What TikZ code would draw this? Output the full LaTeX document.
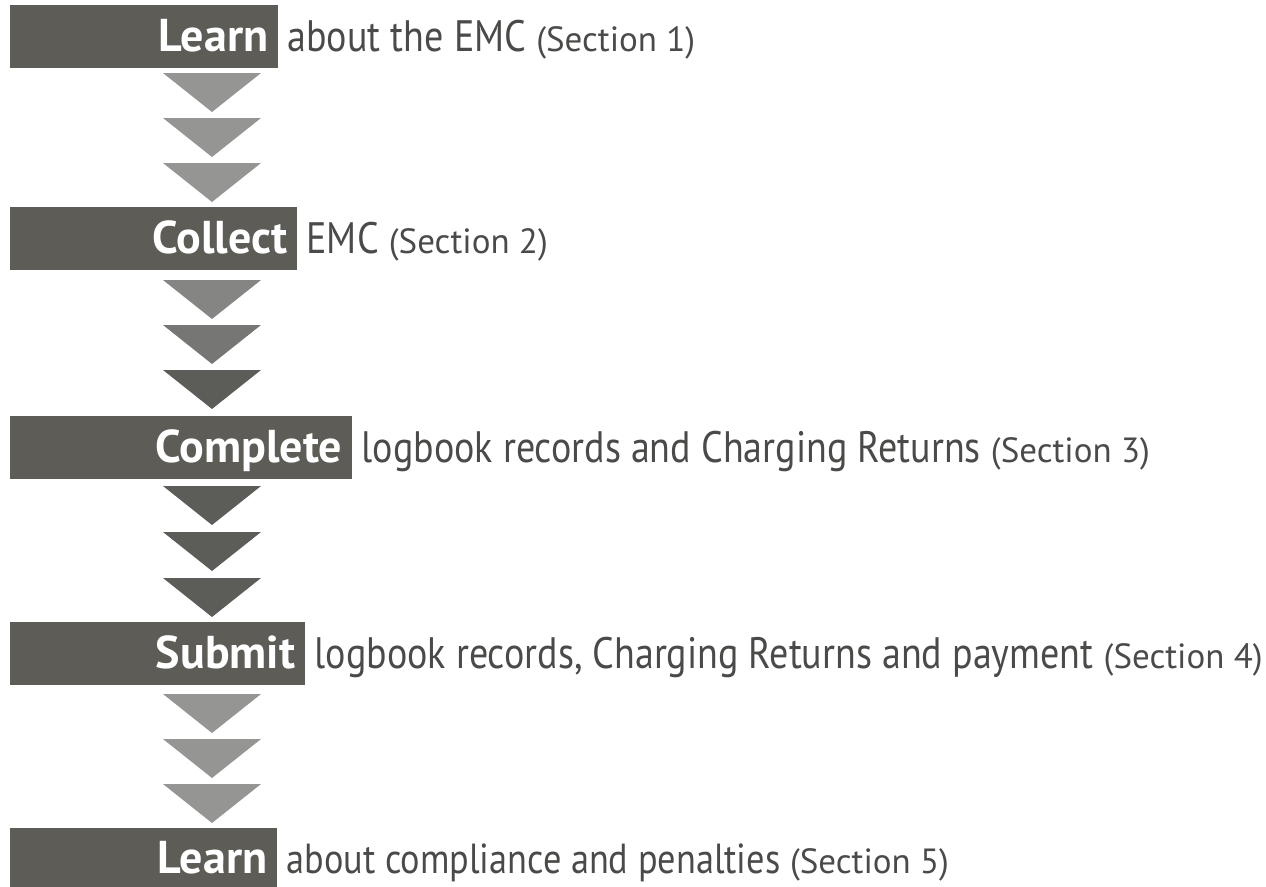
\documentclass[tikz,border=0pt]{standalone}
\usepackage{fontspec}
\setmainfont{PT Sans}
\newfontfamily\condfont[FakeStretch=0.864]{PT Sans}
\definecolor{barc}{HTML}{5D5C57}
\definecolor{txtc}{HTML}{4A4A48}
\definecolor{trilight}{HTML}{959594}
\definecolor{trimid}{HTML}{858583}
\definecolor{trimid2}{HTML}{767674}
\definecolor{tridark}{HTML}{5C5C59}
\begin{document}
\begin{tikzpicture}[x=1pt,y=-1pt,
  bar/.style={fill=barc, draw=none, anchor=north west, minimum height=63pt,
    inner xsep=10pt, inner ysep=0pt, text=white, align=right,
    font=\fontsize{46}{48}\selectfont\bfseries, text height=37pt, text depth=8pt},
  desc/.style={anchor=west, text=txtc, inner sep=0pt,
    font=\condfont\fontsize{44}{46}\selectfont, text height=37pt, text depth=8pt},
  tri/.style={draw=none}]
\useasboundingbox (0,0) rectangle (1266,886);
\clip (0,0) rectangle (1266,886);
\newcommand{\sect}[1]{{\normalfont\fontsize{35}{38}\selectfont (Section #1)}}
\newcommand{\tri}[2]{\fill[tri,#2] (163,#1) -- (261,#1) -- (212,#1+39) -- cycle;}
% bars
\node[bar, text width=248pt] (b1) at (10,5) {Learn};
\node[desc, xshift=9pt] (d1) at (b1.east) {about the EMC \sect{1}};
\node[bar, text width=267pt] (b2) at (10,207) {Collect};
\node[desc, xshift=9pt] (d2) at (b2.east) {EMC \sect{2}};
\node[bar, text width=322pt] (b3) at (10,416) {Complete};
\node[desc, xshift=9pt] (d3) at (b3.east) {logbook records and Charging Returns \sect{3}};
\node[bar, text width=275pt] (b4) at (10,622) {Submit};
\node[desc, xshift=9pt] (d4) at (b4.east) {logbook records, Charging Returns and payment \sect{4}};
\node[bar, text width=247pt, minimum height=62pt] (b5) at (10,828) {Learn};
\node[desc, xshift=9pt, font=\condfont\fontsize{42}{44}\selectfont] (d5) at (b5.east) {about compliance and penalties \sect{5}};
\fill[barc] (b5.south west) rectangle ([yshift=-10pt]b5.south east);
% triangles
\tri{73}{trilight}
\tri{118}{trilight}
\tri{163}{trilight}
\tri{280}{trimid}
\tri{325}{trimid2}
\tri{370}{tridark}
\tri{486}{tridark}
\tri{532}{tridark}
\tri{578}{tridark}
\tri{694}{trilight}
\tri{739}{trilight}
\tri{784}{trilight}
\end{tikzpicture}
\end{document}
